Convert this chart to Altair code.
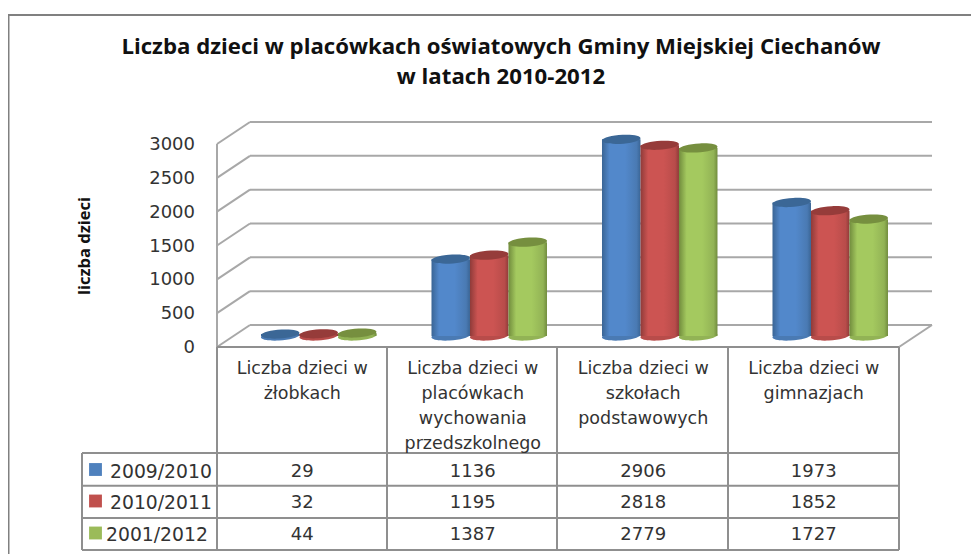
import altair as alt
import pandas as pd

title_lines = ["Liczba dzieci w placówkach oświatowych Gminy Miejskiej Ciechanów", "w latach 2010-2012"]
y_title = "liczba dzieci"
categories = ["Liczba dzieci w\nżłobkach",
              "Liczba dzieci w\nplacówkach\nwychowania\nprzedszkolnego",
              "Liczba dzieci w\nszkołach\npodstawowych",
              "Liczba dzieci w\ngimnazjach"]
series = ["2009/2010", "2010/2011", "2001/2012"]
v_2009 = [29, 1136, 2906, 1973]
v_2010 = [32, 1195, 2818, 1852]
v_2012 = [44, 1387, 2779, 1727]
values = [v_2009, v_2010, v_2012]
ticks = [0, 500, 1000, 1500, 2000, 2500, 3000]

edge = ["#3a6595", "#8f3b39", "#718c3d"]
mid = ["#5288cb", "#cc5452", "#a4c95f"]
top_c = ["#3b6796", "#963c3a", "#768f3f"]
base_c = ["#4a7ab3", "#b84c4a", "#92b355"]
swatch = ["#4f81bd", "#c0504d", "#9bbb59"]

GRID = "#a8a8a8"
LINE = "#8f8f8f"
TXT = "#333333"
FONT = "DejaVu Sans"

W, H = 963, 546
def fx(px): return (px - 217) / 170.5
def fy(py): return (347 - py) * 3000 / 203
DX = fx(250)            # depth shift of the back wall
DY = fy(325)
BX = 0.258              # first bar inside a band
BW = 0.2258             # bar width
BY = fy(336)            # floor level of the bars

xs = alt.Scale(domain=[fx(8), fx(971)], range=[0, W], nice=False, zero=False)
ys = alt.Scale(domain=[fy(554), fy(8)], range=[H, 0], nice=False, zero=False)
X = alt.X("x:Q", scale=xs, axis=None)
X2 = alt.X2("x2:Q")
Y = alt.Y("y:Q", scale=ys, axis=None)
Y2 = alt.Y2("y2:Q")

def rules(rows, color, width):
    return alt.Chart(pd.DataFrame(rows, columns=["x", "x2", "y", "y2"])).mark_rule(
        color=color, strokeWidth=width).encode(x=X, x2=X2, y=Y, y2=Y2)

grid = rules([[DX, 4 + DX, t + DY, t + DY] for t in ticks], GRID, 2)
diag = rules([[0, DX, t, t + DY] for t in ticks] + [[4, 4 + DX, 0, DY]], GRID, 2)
wall = rules([[0, 0, 0, 3000]], GRID, 2)

# y axis labels and title
tick_labels = alt.Chart(pd.DataFrame({"x": [fx(195)] * 7, "y": ticks, "t": [str(t) for t in ticks]})).mark_text(
    font=FONT, fontSize=18, color=TXT, align="right", baseline="middle", dy=1
).encode(x=X, y=Y, text="t:N")
axis_title = alt.Chart(pd.DataFrame({"x": [fx(85)], "y": [fy(246)], "t": [y_title]})).mark_text(
    font="Open Sans", fontWeight="bold", fontSize=16.5, color="#111111", angle=270, align="center", baseline="middle"
).encode(x=X, y=Y, text="t:N")

# data table lines
col_px = [217, 387, 557, 728, 899]
row_py = [453, 485.7, 518, 550]
table_rows = [[0, 4, 0, 0]]
table_rows += [[fx(p), fx(p), fy(347), fy(550)] for p in col_px]
table_rows += [[fx(82), 4, fy(p), fy(p)] for p in row_py]
table_rows += [[fx(82), fx(82), fy(453), fy(550)]]
table = rules(table_rows, LINE, 2)

frame = rules([[fx(8), fx(971), fy(15), fy(15)], [fx(8.5), fx(8.5), fy(15), fy(554)]], "#808080", 2)

# cylinders
ELL = "M-1,0.05 A1,0.23 -4 1 1 1,-0.05 A1,0.23 -4 1 1 -1,0.05 Z"
SIZE = (BW * 170.5) ** 2
cyl = []
for s, vals in enumerate(values):
    d = pd.DataFrame({
        "x": [i + BX + s * BW for i in range(4)],
        "x2": [i + BX + (s + 1) * BW for i in range(4)],
        "xc": [i + BX + (s + 0.5) * BW for i in range(4)],
        "y": [v + BY for v in vals],
        "y2": [BY] * 4,
    })
    grad = alt.Gradient(gradient="linear", x1=0, x2=1, y1=0, y2=0, stops=[
        alt.GradientStop(offset=0, color=edge[s]),
        alt.GradientStop(offset=0.2, color=mid[s]),
        alt.GradientStop(offset=0.6, color=mid[s]),
        alt.GradientStop(offset=0.9, color=base_c[s]),
        alt.GradientStop(offset=1, color=edge[s]),
    ])
    Xc = alt.X("xc:Q", scale=xs, axis=None)
    cyl.append(alt.Chart(d).mark_point(filled=True, shape=ELL, size=SIZE, color=base_c[s], opacity=1).encode(x=Xc, y=alt.Y("y2:Q", scale=ys, axis=None)))
    cyl.append(alt.Chart(d).mark_rect(color=grad).encode(x=X, x2=X2, y=Y, y2=Y2))
    cyl.append(alt.Chart(d).mark_point(filled=True, shape=ELL, size=SIZE, color=top_c[s], opacity=1).encode(x=Xc, y=Y))

# table text
head = alt.Chart(pd.DataFrame({"x": [i + 0.5 for i in range(4)], "y": [fy(360)] * 4, "t": categories})).mark_text(
    font=FONT, fontSize=17.5, color=TXT, baseline="top", align="center", lineBreak="\n", lineHeight=25
).encode(x=X, y=Y, text="t:N")

row_c = [471.5, 503, 535]
cell_rows = []
for s, vals in enumerate(values):
    for i, v in enumerate(vals):
        cell_rows.append({"x": i + 0.5, "y": fy(row_c[s]), "t": str(v)})
cells = alt.Chart(pd.DataFrame(cell_rows)).mark_text(
    font=FONT, fontSize=18, color=TXT, baseline="middle", align="center"
).encode(x=X, y=Y, text="t:N")

leg_px = [110, 110, 106]
leg = alt.Chart(pd.DataFrame({"x": [fx(p) for p in leg_px], "y": [fy(p) for p in row_c], "t": series})).mark_text(
    font=FONT, fontSize=18.8, color=TXT, baseline="middle", align="left"
).encode(x=X, y=Y, text="t:N")
swatches = alt.Chart(pd.DataFrame({"x": [fx(95.5)] * 3, "y": [fy(p - 2) for p in row_c], "c": swatch})).mark_square(
    size=165, opacity=1, filled=True
).encode(x=X, y=Y, color=alt.Color("c:N", scale=None))

chart = alt.layer(grid, frame, diag, wall, *cyl, table, tick_labels, axis_title, head, cells, leg, swatches).properties(
    width=W, height=H, padding=0, background="white",
    autosize=alt.AutoSizeParams(type="none"),
    title=alt.TitleParams(text=title_lines, anchor="middle", dx=11.5, dy=84, font="Open Sans", fontWeight="bold",
                          fontSize=22.2, color="#111111", lineHeight=30),
).configure_view(stroke=None)

chart.save("out.html", embed_options={"renderer": "svg", "actions": False})
